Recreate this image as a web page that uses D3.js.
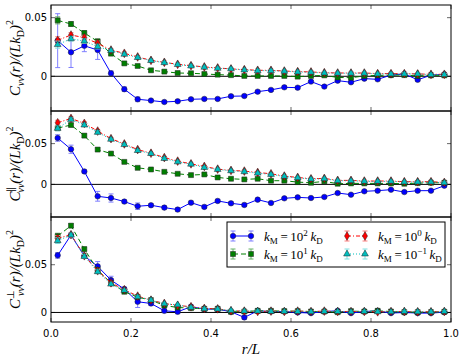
<!DOCTYPE html>
<html>
<head>
<meta charset="utf-8">
<script src="https://cdn.jsdelivr.net/npm/d3@7"></script>
<style>
body { margin: 0; background: #fff; }
text { font-family: "DejaVu Sans", sans-serif; }
.math { font-family: "Liberation Serif", serif; font-style: italic; }
</style>
</head>
<body>
<div id="chart"></div>
<script>
// r/L bins
var r = d3.range(30).map(function (i) { return (i + 0.5) / 30; });
var xTicks = [0, 0.2, 0.4, 0.6, 0.8, 1.0];

// panel 1: C_vv
var vvM2 = [0.0304,0.0205,0.026,0.0224,0.0026,-0.011,-0.0196,-0.0207,-0.0219,-0.0213,-0.0196,-0.0193,-0.0193,-0.017,-0.0168,-0.0131,-0.0116,-0.0094,-0.0097,-0.0045,-0.0088,-0.0037,-0.0051,-0.002,-0.0026,0.001,0.002,-0.003,0.001,0.0017];
var vvM1 = [0.0477,0.0446,0.0369,0.0298,0.0193,0.011,0.0088,0.0051,0.004,0.0028,0.0026,0.002,0.0014,0.001,0.0003,0.0003,0.0003,0.0003,-0.0003,0.0003,0.0008,-0.001,-0.0012,0.0003,0.0008,0.001,0.001,0.0003,0.0008,0.0008];
var vvM0 = [0.0307,0.0352,0.033,0.0281,0.0224,0.0196,0.0165,0.0136,0.0119,0.0102,0.0091,0.008,0.0071,0.0063,0.0057,0.0051,0.0051,0.0045,0.004,0.0037,0.0031,0.0028,0.0028,0.0028,0.0023,0.0023,0.0023,0.002,0.0017,0.0017];
var vvMm1 = [0.027,0.032,0.030,0.0253,0.022,0.0188,0.016,0.0134,0.0116,0.010,0.0088,0.0077,0.0068,0.0063,0.0054,0.0048,0.0048,0.0043,0.0037,0.0034,0.0028,0.0026,0.0026,0.0026,0.002,0.002,0.002,0.002,0.0014,0.0014];
var vvErrM2 = [0.023,0.013,0.005,0.008,0.002,0.002,0.002,0.001,0.001,0.001,0.001,0.001,0.001,0.001,0.001,0.001,0.001,0.001,0.001,0.001,0.001,0.001,0.001,0.001,0.001,0.001,0.001,0.001,0.001,0.001];
var vvErr = [0.003,0.002,0.002,0.002,0.001,0.001,0.001,0.001,0.001,0.001,0.001,0.001,0.001,0.001,0.001,0.001,0.001,0.001,0.001,0.001,0.001,0.001,0.001,0.001,0.001,0.001,0.001,0.001,0.001,0.001];

// panel 2: C_vv parallel
var parM2 = [0.0569,0.0431,0.0159,-0.0146,-0.0167,-0.0211,-0.0268,-0.0256,-0.0285,-0.0309,-0.0224,-0.0276,-0.0203,-0.0232,-0.0252,-0.0187,-0.0228,-0.0171,-0.0159,-0.0167,-0.0154,-0.0106,-0.0126,-0.0085,-0.0077,-0.0065,-0.0094,-0.0077,-0.0077,-0.0016];
var parM1 = [0.069,0.0728,0.0598,0.0427,0.0378,0.0276,0.0203,0.0183,0.0154,0.013,0.0114,0.0122,0.0085,0.0069,0.0061,0.0069,0.0045,0.0045,0.0028,0.002,0.0037,0.0008,0.0012,0.0012,0.0012,0.0012,0.0008,0.0016,0.002,0.002];
var parM0 = [0.0756,0.0809,0.0748,0.0654,0.0561,0.0496,0.0427,0.0382,0.0329,0.0285,0.0252,0.022,0.0187,0.0171,0.0163,0.0146,0.013,0.0102,0.0085,0.0069,0.0073,0.0049,0.0049,0.0041,0.0041,0.0041,0.0033,0.0033,0.0033,0.0024];
var parMm1 = [0.0687,0.0797,0.0728,0.0638,0.0553,0.0488,0.0415,0.0378,0.0317,0.0276,0.0248,0.0207,0.0183,0.0167,0.0155,0.0138,0.0122,0.0098,0.0081,0.0065,0.0069,0.0045,0.0045,0.0037,0.0037,0.0037,0.0029,0.0029,0.0029,0.002];
var parErrM2 = [0.004,0.005,0.002,0.006,0.005,0.002,0.004,0.002,0.002,0.002,0.002,0.002,0.002,0.002,0.002,0.001,0.001,0.001,0.001,0.001,0.001,0.001,0.001,0.001,0.001,0.001,0.001,0.001,0.001,0.001];
var parErr = [0.003,0.002,0.002,0.002,0.001,0.001,0.001,0.001,0.001,0.001,0.001,0.001,0.001,0.001,0.001,0.001,0.001,0.001,0.001,0.001,0.001,0.001,0.001,0.001,0.001,0.001,0.001,0.001,0.001,0.001];

// panel 3: C_vv perpendicular
var perpM2 = [0.0598,0.0811,0.0591,0.0483,0.0339,0.0245,0.0112,0.0094,0.0017,0.0007,0.006,0.0035,0.0035,0.0007,-0.0052,0.0017,0.001,0.001,0.0,-0.0007,0.001,0.0017,-0.0007,0.001,0.0017,-0.0007,0.0,-0.0007,-0.0007,0.0003];
var perpM1 = [0.080,0.0909,0.0664,0.0444,0.0308,0.0217,0.0161,0.0129,0.0073,0.0052,0.0045,0.0038,0.0038,0.0007,0.001,0.0017,0.0017,0.0014,0.0014,0.001,0.001,0.0003,0.0014,0.001,0.0017,0.001,0.0003,0.0003,0.0003,0.0007];
var perpM0 = [0.0776,0.0815,0.0594,0.0437,0.0311,0.0238,0.0171,0.0129,0.0094,0.0073,0.006,0.0042,0.0038,0.0017,0.0014,0.001,0.0014,0.001,0.0014,0.001,0.0014,0.001,0.001,0.001,0.0007,0.001,0.001,0.0007,0.0007,0.001];
var perpMm1 = [0.0752,0.0811,0.0587,0.0427,0.0297,0.0231,0.0164,0.0129,0.0091,0.008,0.0052,0.0038,0.0035,0.0021,0.0014,0.0014,0.001,0.001,0.001,0.0007,0.001,0.001,0.0007,0.001,0.0007,0.0007,0.001,0.0007,0.0007,0.001];
var perpErrM2 = [0.003,0.002,0.002,0.005,0.004,0.002,0.006,0.002,0.002,0.002,0.002,0.002,0.002,0.002,0.002,0.001,0.001,0.001,0.001,0.001,0.001,0.001,0.001,0.001,0.001,0.001,0.001,0.001,0.001,0.001];
var perpErr = [0.003,0.002,0.002,0.002,0.001,0.001,0.001,0.001,0.001,0.001,0.001,0.001,0.001,0.001,0.001,0.001,0.001,0.001,0.001,0.001,0.001,0.001,0.001,0.001,0.001,0.001,0.001,0.001,0.001,0.001];

var legendExp = ["2", "1", "0", "\u22121"];

var width = 464, height = 357;
var svg = d3.select("#chart").append("svg")
    .attr("width", width)
    .attr("height", height);

var x = d3.scaleLinear().domain([0, 1]).range([51, 451]);

// style per series: color, light color, dash, marker
var styles = [
    {c: "#0000ff", lc: "#7f7fff", dash: null, sym: d3.symbolCircle, size: 24},
    {c: "#007f00", lc: "#66b266", dash: "5,3", sym: d3.symbolSquare, size: 25},
    {c: "#ff0000", lc: "#ff7f7f", dash: "4,2,1,2", sym: d3.symbolDiamond, size: 22},
    {c: "#00bfbf", lc: "#7fdfdf", dash: "1,2", sym: d3.symbolTriangle, size: 20}
];

var panels = [
    {top: 5, bottom: 111, dom: [-0.0296, 0.0608], data: [vvM2, vvM1, vvM0, vvMm1], err: [vvErrM2, vvErr, vvErr, vvErr], sup: null},
    {top: 111, bottom: 217, dom: [-0.04, 0.09], data: [parM2, parM1, parM0, parMm1], err: [parErrM2, parErr, parErr, parErr], sup: "\u2225"},
    {top: 217, bottom: 322, dom: [-0.01, 0.1], data: [perpM2, perpM1, perpM0, perpMm1], err: [perpErrM2, perpErr, perpErr, perpErr], sup: "\u22a5"}
];

panels.forEach(function (p, pi) {
    var y = d3.scaleLinear().domain(p.dom).range([p.bottom, p.top]);
    var g = svg.append("g");
    var clipId = "clip" + pi;
    svg.append("clipPath").attr("id", clipId).append("rect")
        .attr("x", 51).attr("y", p.top).attr("width", 400).attr("height", p.bottom - p.top);

    // ticks (inside)
    var yt = [0, 0.05];
    g.selectAll(".ytl").data(yt).enter().append("line")
        .attr("x1", 51).attr("x2", 55)
        .attr("y1", function (d) { return y(d); }).attr("y2", function (d) { return y(d); })
        .attr("stroke", "#000").attr("stroke-width", 0.6);
    g.selectAll(".ytr").data(yt).enter().append("line")
        .attr("x1", 447).attr("x2", 451)
        .attr("y1", function (d) { return y(d); }).attr("y2", function (d) { return y(d); })
        .attr("stroke", "#000").attr("stroke-width", 0.6);
    g.selectAll(".xtb").data(xTicks).enter().append("line")
        .attr("x1", function (d) { return x(d); }).attr("x2", function (d) { return x(d); })
        .attr("y1", p.bottom).attr("y2", p.bottom - 4)
        .attr("stroke", "#000").attr("stroke-width", 0.6);
    g.selectAll(".xtt").data(xTicks).enter().append("line")
        .attr("x1", function (d) { return x(d); }).attr("x2", function (d) { return x(d); })
        .attr("y1", p.top).attr("y2", p.top + 4)
        .attr("stroke", "#000").attr("stroke-width", 0.6);

    g.selectAll(".ylab").data(yt).enter().append("text")
        .attr("x", 47).attr("y", function (d) { return y(d) + 3.5; })
        .attr("text-anchor", "end")
        .style("font-size", "10px")
        .text(function (d) { return d === 0 ? "0" : "0.05"; });

    // zero line
    g.append("line").attr("x1", 51).attr("x2", 451)
        .attr("y1", y(0)).attr("y2", y(0))
        .attr("stroke", "#000").attr("stroke-width", 1);

    var plot = g.append("g").attr("clip-path", "url(#" + clipId + ")");
    p.data.forEach(function (vals, si) {
        var st = styles[si];
        var errs = p.err[si];
        var pts = vals.map(function (v, i) { return {x: r[i], y: v, e: errs[i]}; });
        var eg = plot.append("g").attr("stroke", st.lc).attr("stroke-width", 1);
        pts.forEach(function (d) {
            eg.append("line").attr("x1", x(d.x)).attr("x2", x(d.x))
                .attr("y1", y(d.y - d.e)).attr("y2", y(d.y + d.e));
            eg.append("line").attr("x1", x(d.x) - 2.5).attr("x2", x(d.x) + 2.5)
                .attr("y1", y(d.y - d.e)).attr("y2", y(d.y - d.e));
            eg.append("line").attr("x1", x(d.x) - 2.5).attr("x2", x(d.x) + 2.5)
                .attr("y1", y(d.y + d.e)).attr("y2", y(d.y + d.e));
        });
        plot.append("path").datum(pts)
            .attr("fill", "none").attr("stroke", st.c).attr("stroke-width", 1)
            .attr("stroke-dasharray", st.dash)
            .attr("d", d3.line().x(function (d) { return x(d.x); }).y(function (d) { return y(d.y); }));
        plot.selectAll(".m" + si).data(pts).enter().append("path")
            .attr("transform", function (d) { return "translate(" + x(d.x) + "," + y(d.y) + ")"; })
            .attr("d", d3.symbol().type(st.sym).size(st.size))
            .attr("fill", st.c).attr("stroke", "#222").attr("stroke-width", 0.5);
    });

    // frame
    g.append("rect").attr("x", 51).attr("y", p.top)
        .attr("width", 400).attr("height", p.bottom - p.top)
        .attr("fill", "none").attr("stroke", "#000").attr("stroke-width", 1);

    // y label
    var cy = (p.top + p.bottom) / 2;
    var lab = svg.append("text").attr("class", "math")
        .attr("transform", "translate(20," + cy + ") rotate(-90)")
        .attr("text-anchor", "middle")
        .style("font-size", "15px");
    lab.append("tspan").text("C");
    if (p.sup) {
        lab.append("tspan").attr("dy", -6).style("font-size", "10px").style("font-style", "normal").text(p.sup);
        lab.append("tspan").attr("dx", -6).attr("dy", 10).style("font-size", "10px").text("vv");
        lab.append("tspan").attr("dy", -4).text("(r)/(Lk");
    } else {
        lab.append("tspan").attr("dy", 4).style("font-size", "10px").text("vv");
        lab.append("tspan").attr("dy", -4).text("(r)/(Lk");
    }
    lab.append("tspan").attr("dy", 4).style("font-size", "10px").style("font-style", "normal").text("D");
    lab.append("tspan").attr("dy", -4).text(")");
    lab.append("tspan").attr("dy", -7).style("font-size", "10px").style("font-style", "normal").text("2");
});

// x tick labels
svg.selectAll(".xl").data(xTicks).enter().append("text")
    .attr("x", function (d) { return x(d); }).attr("y", 337)
    .attr("text-anchor", "middle")
    .style("font-size", "10px")
    .text(function (d) { return d3.format(".1f")(d); });

svg.append("text").attr("class", "math")
    .attr("x", 251).attr("y", 354)
    .attr("text-anchor", "middle")
    .style("font-size", "15px")
    .text("r/L");

// legend
var lg = svg.append("g");
lg.append("rect").attr("x", 227).attr("y", 222).attr("width", 218).attr("height", 45)
    .attr("fill", "#fff").attr("stroke", "#000").attr("stroke-width", 1);
var legPos = [[233, 236], [233, 254], [347, 236], [347, 254]];
styles.forEach(function (st, i) {
    var px = legPos[i][0], py = legPos[i][1];
    var item = lg.append("g");
    item.append("line").attr("x1", px).attr("x2", px + 18).attr("y1", py).attr("y2", py)
        .attr("stroke", st.c).attr("stroke-width", 1).attr("stroke-dasharray", st.dash);
    [px, px + 18].forEach(function (mx) {
        item.append("line").attr("x1", mx).attr("x2", mx).attr("y1", py - 5).attr("y2", py + 5)
            .attr("stroke", st.lc);
        item.append("line").attr("x1", mx - 2.5).attr("x2", mx + 2.5).attr("y1", py - 5).attr("y2", py - 5)
            .attr("stroke", st.lc);
        item.append("line").attr("x1", mx - 2.5).attr("x2", mx + 2.5).attr("y1", py + 5).attr("y2", py + 5)
            .attr("stroke", st.lc);
        item.append("path").attr("transform", "translate(" + mx + "," + py + ")")
            .attr("d", d3.symbol().type(st.sym).size(st.size))
            .attr("fill", st.c).attr("stroke", "#222").attr("stroke-width", 0.5);
    });
    var t = item.append("text").attr("class", "math")
        .attr("x", px + 31).attr("y", py + 5)
        .style("font-size", "13px");
    t.append("tspan").text("k");
    t.append("tspan").attr("dy", 3).style("font-size", "9px").style("font-style", "normal").text("M");
    t.append("tspan").attr("dy", -3).style("font-style", "normal").text("\u2009=\u200910");
    t.append("tspan").attr("dy", -5).style("font-size", "9px").style("font-style", "normal").text(legendExp[i]);
    t.append("tspan").attr("dy", 5).text("\u2009k");
    t.append("tspan").attr("dy", 3).style("font-size", "9px").style("font-style", "normal").text("D");
});
</script>
</body>
</html>
